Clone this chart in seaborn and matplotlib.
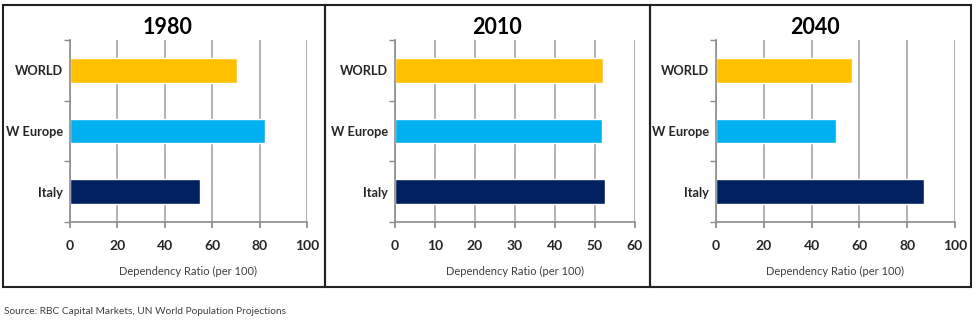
import matplotlib
matplotlib.use("Agg")
import matplotlib.pyplot as plt
from matplotlib.patches import Rectangle
import seaborn as sns
import pandas as pd

categories = ["WORLD", "W Europe", "Italy"]
years = ["1980", "2010", "2040"]
ratio_1980 = [70.5, 82.2, 54.8]
ratio_2010 = [52.1, 51.8, 52.5]
ratio_2040 = [56.9, 50.1, 87.0]
xmax = [100, 60, 100]
xstep = [20, 10, 20]
colors = ["#FFC000", "#00B0F0", "#002060"]
xlabel = "Dependency Ratio (per 100)"
source = "Source: RBC Capital Markets, UN World Population Projections"

sns.set_theme(style="white")
plt.rcParams["font.family"] = ["Lato", "DejaVu Sans"]

W, H = 978, 330
fig = plt.figure(figsize=(W / 100, H / 100), dpi=100)

axes_px = [(70, 307), (395, 635), (716, 955)]
frames_px = [(3, 325), (325, 650), (650, 971)]
title_cx = [168, 497, 815]
top, bottom = 40, 222

series = [ratio_1980, ratio_2010, ratio_2040]
for i, (yr, vals) in enumerate(zip(years, series)):
    x0, x1 = axes_px[i]
    ax = fig.add_axes([x0 / W, 1 - bottom / H, (x1 - x0) / W, (bottom - top) / H])
    df = pd.DataFrame({"region": categories, "value": vals})
    sns.barplot(data=df, y="region", x="value", hue="region", palette=colors,
                order=categories, hue_order=categories, orient="h", dodge=False,
                legend=False, width=0.41, saturation=1, ax=ax)
    ax.set_xlim(0, xmax[i])
    ax.set_ylim(2.5, -0.5)
    ax.set_xticks(range(0, xmax[i] + 1, xstep[i]))
    ax.xaxis.grid(True, color="#A6A6A6", linewidth=1.2)
    ax.set_axisbelow(True)
    for s in ["top", "right"]:
        ax.spines[s].set_visible(False)
    for s in ["left", "bottom"]:
        ax.spines[s].set_color("#8C8C8C")
        ax.spines[s].set_linewidth(1.2)
    ax.tick_params(axis="x", which="major", bottom=True, length=4, color="#8C8C8C",
                   labelsize=10, pad=9)
    ax.tick_params(axis="y", which="major", left=False, length=0, labelsize=9.2, pad=5)
    ax.set_yticks([-0.5, 0.5, 1.5, 2.5], minor=True)
    ax.tick_params(axis="y", which="minor", left=True, length=4, color="#8C8C8C")
    for lab in ax.get_xticklabels() + ax.get_yticklabels():
        lab.set_fontweight("bold")
        lab.set_color("#262626")
    ax.set_ylabel("")
    ax.set_xlabel(xlabel, fontsize=8, color="#404040", labelpad=10)

    fig.text(title_cx[i] / W, 1 - 27 / H, yr, fontsize=15.5, fontweight="bold",
             color="black", ha="center", va="center")

    f0, f1 = frames_px[i]
    fig.add_artist(Rectangle((f0 / W, 1 - 287 / H), (f1 - f0) / W, (287 - 5) / H,
                             transform=fig.transFigure, fill=False,
                             edgecolor="#222222", linewidth=1.5))

fig.text(4 / W, 1 - 312 / H, source, fontsize=7.3, color="#404040", va="center", ha="left")

fig.savefig("out.png", dpi=100, facecolor="white")
